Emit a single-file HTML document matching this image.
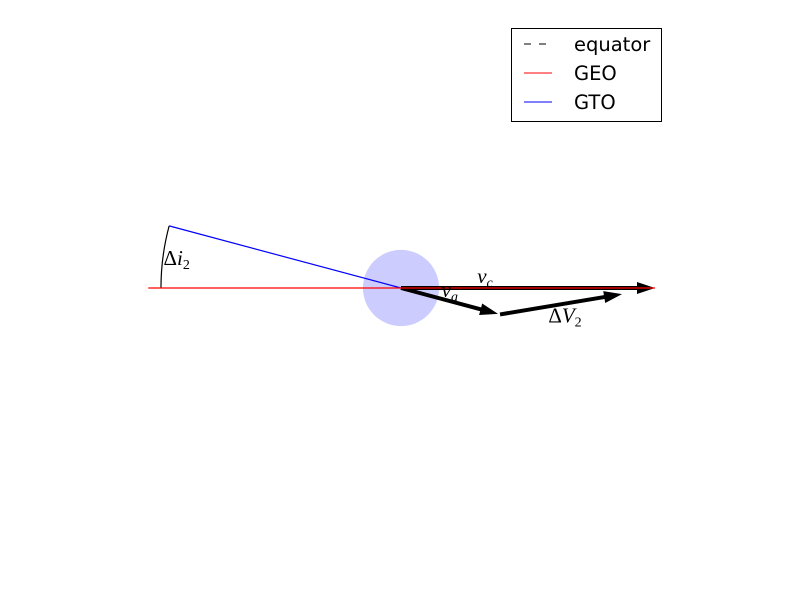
<!DOCTYPE html>
<html><head><meta charset="utf-8"><style>
body{margin:0;background:#fff;}
svg{display:block;font-family:"DejaVu Sans","Liberation Sans",sans-serif;}
</style></head><body>
<svg id="chart" width="800" height="600" viewBox="0 0 800 600">
<rect width="800" height="600" fill="#fff"/>
<g id="plot"></g>
<g>
<rect x="511.5" y="28.5" width="150" height="93" fill="#fff" stroke="#000" stroke-width="1"/>
<line x1="524" y1="44" x2="552" y2="44" stroke="#000" stroke-dasharray="7,8"/>
<text x="574" y="51" font-size="19.5">equator</text>
<line x1="524" y1="73" x2="552" y2="73" stroke="red"/>
<text x="574" y="80" font-size="19.5">GEO</text>
<line x1="524" y1="102" x2="552" y2="102" stroke="blue"/>
<text x="574" y="109" font-size="19.5">GTO</text>
</g>
</svg>
<script>
// data (units: vc = 1)
const vcVec = [1.0, 0.0];
const vaVec = [0.382, -0.102];
const dv2End = [0.87, -0.024];
const gtoAngleDeg = [15];
const gtoLength = [0.945];
const geoRange = [-0.995, 1.0];
const earthRadius = [0.15];
const labels = ["v_c", "v_a", "ΔV2", "Δi2"];

const cx = 401, cy = 288, S = 254;
const X = v => cx + v * S;
const Y = v => cy - v * S;
const NS = "http://www.w3.org/2000/svg";
const g = document.getElementById("plot");
function mk(tag, attrs) {
  const e = document.createElementNS(NS, tag);
  for (const k in attrs) e.setAttribute(k, attrs[k]);
  g.appendChild(e);
  return e;
}
function arrow(x0, y0, x1, y1) {
  const p0 = [X(x0), Y(y0)], p1 = [X(x1), Y(y1)];
  const dx = p1[0] - p0[0], dy = p1[1] - p0[1], L = Math.hypot(dx, dy);
  const ux = dx / L, uy = dy / L, nx = -uy, ny = ux;
  const hl = 18, hw = 6, lw = 2;
  const bx = p1[0] - ux * hl, by = p1[1] - uy * hl;
  const pts = [
    [p0[0] + nx * lw, p0[1] + ny * lw], [bx + nx * lw, by + ny * lw], [bx + nx * hw, by + ny * hw],
    p1, [bx - nx * hw, by - ny * hw], [bx - nx * lw, by - ny * lw], [p0[0] - nx * lw, p0[1] - ny * lw]
  ];
  return mk("polygon", {points: pts.map(p => p.join(",")).join(" "), fill: "#000"});
}
const earth = mk("circle", {cx: X(0), cy: Y(0), r: earthRadius[0] * S, fill: "#ccccff"});


const a = gtoAngleDeg[0] * Math.PI / 180;
const gx = -gtoLength[0] * Math.cos(a), gy = gtoLength[0] * Math.sin(a);
const gto = mk("line", {x1: X(gx), y1: Y(gy), x2: X(0), y2: Y(0), stroke: "blue", "stroke-width": 1.2});


const R = gtoLength[0] * S;
const arc = mk("path", {d: `M${X(gx)},${Y(gy)} A${R},${R} 0 0 0 ${X(-gtoLength[0])},${Y(0)}`, fill: "none", stroke: "#000", "stroke-width": 1.2});


const vc = arrow(0, 0, vcVec[0], vcVec[1]);


const va = arrow(0, 0, vaVec[0], vaVec[1]);


const dv = arrow(vaVec[0] + 0.008, vaVec[1] - 0.002, dv2End[0], dv2End[1]);


const geo = mk("line", {x1: X(geoRange[0]), y1: Y(0), x2: X(geoRange[1]), y2: Y(0), stroke: "red", "stroke-width": 1.2});


function label(x, y, main, sub, name) {
  const t = mk("text", {x: x, y: y, "font-size": 21, "font-family": "'Liberation Serif',serif", "font-style": "italic"});
  t.innerHTML = main + `<tspan font-size="14" dy="4">${sub}</tspan>`;
  
  
}
label(X(0.3), Y(0.02), "v", "c", "vc-label");
label(X(0.16), Y(-0.035), "v", "a", "va-label");
const dt = mk("text", {x: X(0.58), y: Y(-0.135), "font-size": 21, "font-family": "'Liberation Serif',serif"});
dt.innerHTML = 'Δ<tspan font-style="italic">V</tspan><tspan font-size="14" dy="4">2</tspan>';


const di = mk("text", {x: X(-0.935), y: Y(0.09), "font-size": 21, "font-family": "'Liberation Serif',serif"});
di.innerHTML = 'Δ<tspan font-style="italic">i</tspan><tspan font-size="14" dy="4">2</tspan>';


</script>
</body></html>
